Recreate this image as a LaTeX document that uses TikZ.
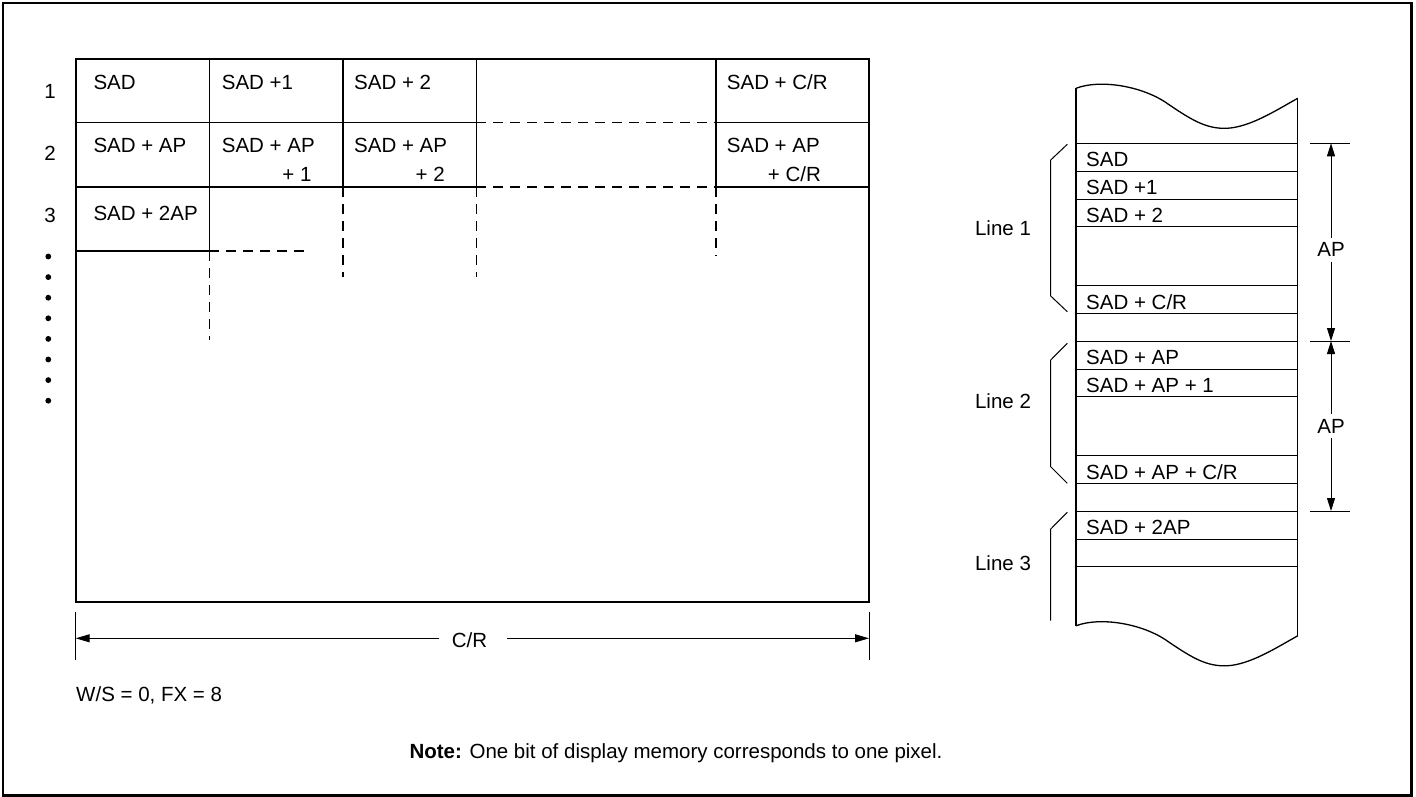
\documentclass[tikz,border=0pt]{standalone}
\usepackage{fontspec}
\setmainfont{Liberation Sans}
\usetikzlibrary{arrows.meta}
\begin{document}
\begin{tikzpicture}[x=1pt,y=-1pt,
  txt/.style={font=\fontsize{20.5}{24}\selectfont, inner sep=0pt, anchor=base west},
  txtc/.style={font=\fontsize{20.5}{24}\selectfont, inner sep=0pt, anchor=base},
  txte/.style={font=\fontsize{20.5}{24}\selectfont, inner sep=0pt, anchor=base east},
  gridline/.style={line width=1.2pt},
  dsh/.style={line width=1.1pt, dash pattern=on 10pt off 7pt},
  thinline/.style={line width=1pt},
  tip/.style={Triangle[length=13pt,width=8pt]},
  dimarrow/.style={line width=1pt, {Triangle[length=13pt,width=8pt]}-{Triangle[length=13pt,width=8pt]}},
]
\useasboundingbox (0,0) rectangle (1416,797);
% outer frame
\draw[line width=2.3pt] (3,3) rectangle (1411.5,795.5);

% ---------------- left grid ----------------
\draw[line width=1.6pt] (76,59) rectangle (869,602);
% horizontal lines
\draw[gridline] (76,122.5) -- (476,122.5);
\draw[dsh] (476,122.5) -- (716,122.5);
\draw[gridline] (716,122.5) -- (869,122.5);
\draw[gridline] (76,187) -- (476,187);
\draw[dsh] (476,187) -- (716,187);
\draw[gridline] (716,187) -- (869,187);
\draw[gridline] (76,251) -- (209.3,251);
\draw[dsh] (209.3,251) -- (307,251);
% vertical lines
\draw[gridline] (209.3,59) -- (209.3,251);
\draw[dsh] (209.3,251) -- (209.3,340);
\draw[gridline] (343,59) -- (343,187);
\draw[dsh] (343,187) -- (343,277);
\draw[gridline] (476.3,59) -- (476.3,187);
\draw[dsh] (476.3,187) -- (476.3,277);
\draw[gridline] (716,59) -- (716,187);
\draw[dsh] (716,187) -- (716,256);

% row labels
\node[txtc] (r1) at (50,99) {1};
\node[txtc] (r2) at (50,160.6) {2};
\node[txtc] (r3) at (50,222.3) {3};
\foreach \i in {0,...,7} {
  \fill (48.3,{256.5+20.6*\i}) circle (2.9pt);
}

% cell texts
\node[txt] (c11) at (93.3,89.4) {SAD};
\node[txt] (c12) at (221.7,89.4) {SAD +1};
\node[txt] (c13) at (354,89.4) {SAD + 2};
\node[txt] (c15) at (726.7,89.4) {SAD + C/R};
\node[txt] (c21) at (93.3,153) {SAD + AP};
\node[txt] (c22) at (221.7,153) {SAD + AP};
\node[txte] (c22b) at (311.7,182) {+ 1};
\node[txt] (c23) at (354,153) {SAD + AP};
\node[txte] (c23b) at (445,182) {+ 2};
\node[txt] (c25) at (726.7,153) {SAD + AP};
\node[txt] (c25b) at (767.7,182) {+ C/R};
\node[txt] (c31) at (93.3,220.6) {SAD + 2AP};

% C/R dimension
\draw[thinline] (75.7,611.7) -- (75.7,660);
\draw[thinline] (869,611.7) -- (869,660);
\coordinate (crl) at (75.7,638.3);
\coordinate (crr) at (869,638.3);
\coordinate (crgl) at (439.3,638.3);
\coordinate (crgr) at (507.3,638.3);
\node[txtc] (cr) at (469.5,647.7) {C/R};
\draw[line width=1pt, -{Triangle[length=14pt,width=8pt]}] (crgl) -- (crl);
\draw[line width=1pt, -{Triangle[length=14pt,width=8pt]}] (crgr) -- (crr);

\node[txt] (ws) at (76,701.5) {W/S = 0, FX = 8};
\node[txtc] (note) at (676,758.3) {\textbf{Note:} One bit of display memory corresponds to one pixel.};

% ---------------- right memory column ----------------
\draw[line width=1.3pt] (1076,88.3) .. controls (1100,79) and (1143,86) .. (1168,104)
  .. controls (1193,121) and (1207,129) .. (1227,128.3)
  .. controls (1250,127) and (1275,111) .. (1297.7,98.3);
\begin{scope}[yshift=-537.5pt]
\draw[line width=1.3pt] (1076,88.3) .. controls (1100,79) and (1143,86) .. (1168,104)
  .. controls (1193,121) and (1207,129) .. (1227,128.3)
  .. controls (1250,127) and (1275,111) .. (1297.7,98.3);
\end{scope}
\draw[line width=1.3pt] (1076,88.3) -- (1076,625.8);
\draw[line width=1.3pt] (1297.7,98.3) -- (1297.7,635.8);
\foreach \yy in {143.3,171,199,226.7,285.7,313.3,341,369,396.7,455.7,483.3,511,539,566.7} {
  \draw[thinline] (1076,\yy) -- (1297.7,\yy);
}
\node[txt] (m1) at (1086,166.3) {SAD};
\node[txt] (m2) at (1086,194.2) {SAD +1};
\node[txt] (m3) at (1086,222) {SAD + 2};
\node[txt] (m4) at (1086,309) {SAD + C/R};
\node[txt] (m5) at (1086,364.3) {SAD + AP};
\node[txt] (m6) at (1086,392.2) {SAD + AP + 1};
\node[txt] (m7) at (1086,479) {SAD + AP + C/R};
\node[txt] (m8) at (1086,534.3) {SAD + 2AP};

% brackets
\draw[thinline] (1067.3,144.3) -- (1050.7,160) -- (1050.7,296) -- (1067.3,311.7);
\draw[thinline] (1067.3,343.3) -- (1050.7,360) -- (1050.7,466.7) -- (1067.3,483.3);
\draw[thinline] (1067.3,512.3) -- (1050.7,529) -- (1050.7,620.7);
\node[txtc] (l1) at (1003,235.3) {Line 1};
\node[txtc] (l2) at (1003,408.5) {Line 2};
\node[txtc] (l3) at (1003,570) {Line 3};

% AP dimensions
\draw[thinline] (1310,143.3) -- (1350,143.3);
\draw[thinline] (1310,341) -- (1350,341);
\draw[thinline] (1310,511) -- (1350,511);
\coordinate (a1) at (1331,143.3);
\coordinate (a2) at (1331,341);
\coordinate (a3) at (1331,511);
\draw[dimarrow] (a1) -- (a2);
\draw[dimarrow] (a2) -- (a3);
\node[txtc, fill=white, inner ysep=5pt, inner xsep=2pt] (ap1) at (1331,256.7) {AP};
\node[txtc, fill=white, inner ysep=5pt, inner xsep=2pt] (ap2) at (1331,433.3) {AP};
\end{tikzpicture}
\end{document}
